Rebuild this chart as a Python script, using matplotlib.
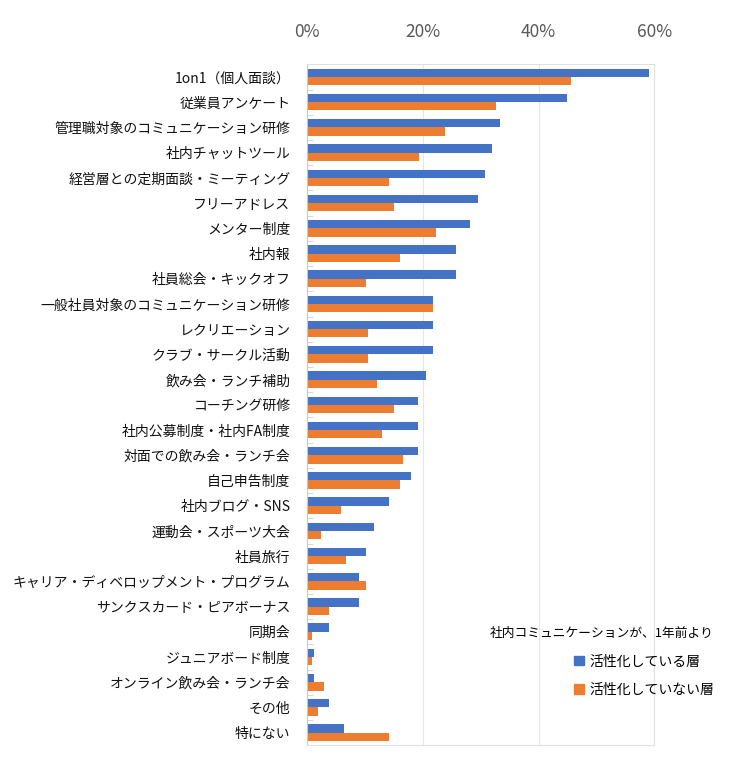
import matplotlib
matplotlib.use("Agg")
import matplotlib.pyplot as plt
import numpy as np
from matplotlib.patches import Patch

plt.rcParams['font.family'] = ['Noto Sans CJK JP', 'DejaVu Sans']

categories = [
    "1on1（個人面談）", "従業員アンケート", "管理職対象のコミュニケーション研修",
    "社内チャットツール", "経営層との定期面談・ミーティング", "フリーアドレス",
    "メンター制度", "社内報", "社員総会・キックオフ",
    "一般社員対象のコミュニケーション研修", "レクリエーション", "クラブ・サークル活動",
    "飲み会・ランチ補助", "コーチング研修", "社内公募制度・社内FA制度",
    "対面での飲み会・ランチ会", "自己申告制度", "社内ブログ・SNS",
    "運動会・スポーツ大会", "社員旅行", "キャリア・ディベロップメント・プログラム",
    "サンクスカード・ピアボーナス", "同期会", "ジュニアボード制度",
    "オンライン飲み会・ランチ会", "その他", "特にない",
]
active = [59.0, 44.9, 33.3, 32.0, 30.7, 29.5, 28.1, 25.7, 25.7, 21.7,
          21.7, 21.7, 20.5, 19.2, 19.2, 19.2, 17.9, 14.1, 11.5, 10.2,
          8.9, 8.9, 3.8, 1.2, 1.2, 3.8, 6.4]
not_active = [45.6, 32.6, 23.8, 19.3, 14.1, 15.0, 22.3, 16.0, 10.2, 21.8,
              10.6, 10.6, 12.1, 15.0, 13.0, 16.5, 16.0, 5.8, 2.4, 6.7,
              10.2, 3.8, 0.9, 0.9, 2.9, 1.9, 14.1]
series_names = ["活性化している層", "活性化していない層"]
legend_title = "社内コミュニケーションが、1年前より"
xticks = [0, 20, 40, 60]

blue = "#4472C4"
orange = "#ED7D31"

fig = plt.figure(figsize=(7.49, 7.66), dpi=100)
ax = fig.add_axes([0.41, 0.027, 0.4636, 0.889])

y = np.arange(len(categories))
h = 0.33
ax.barh(y - h / 2, active, height=h, color=blue)
ax.barh(y + h / 2, not_active, height=h, color=orange)

ax.set_ylim(len(categories) - 0.5, -0.5)
ax.set_xlim(0, 60)
ax.set_yticks(y)
ax.set_yticklabels(categories, fontsize=10, color="#111111")
ax.tick_params(axis="y", length=0, pad=12)
# small category boundary ticks
ax.set_yticks(np.arange(len(categories) + 1) - 0.5, minor=True)
ax.tick_params(axis="y", which="minor", direction="in", length=4, color="#d0d0d0")

ax.xaxis.tick_top()
ax.set_xticks(xticks)
ax.set_xticklabels([f"{t}%" for t in xticks], fontsize=12.5, color="#595959")
ax.tick_params(axis="x", length=0, pad=17)
ax.grid(axis="x", color="#e6e6e6", linewidth=0.8)
ax.set_axisbelow(True)

for s in ["top", "right", "bottom"]:
    ax.spines[s].set_color("#e0e0e0")
    ax.spines[s].set_linewidth(0.8)
ax.spines["left"].set_color("#c8c8c8")

handles = [Patch(color=blue, label=series_names[0]),
           Patch(color=orange, label=series_names[1])]
leg = fig.legend(handles=handles, title=legend_title, loc="upper right",
                 bbox_to_anchor=(0.97, 0.198), frameon=False, fontsize=10,
                 title_fontsize=9.2, handlelength=0.7, handleheight=0.7,
                 handletextpad=0.4, labelspacing=1.05, alignment="right")

fig.savefig("out.png", dpi=100)
